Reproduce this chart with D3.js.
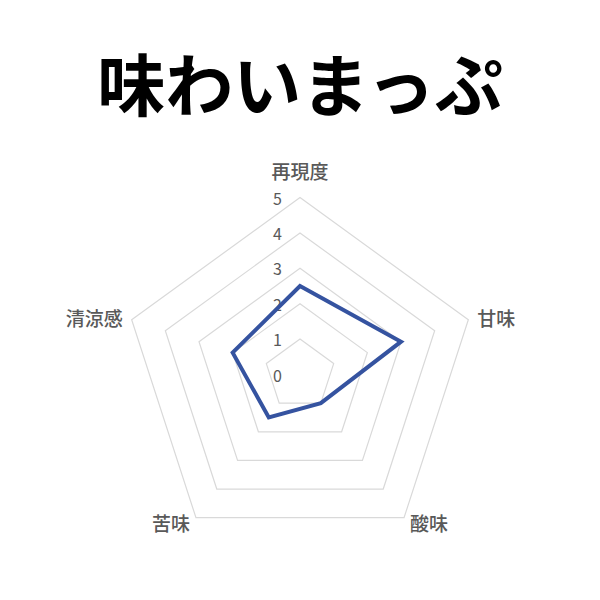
<!DOCTYPE html>
<html>
<head>
<meta charset="utf-8">
<script src="https://cdn.jsdelivr.net/npm/d3@7"></script>
<style>
  html, body { margin: 0; padding: 0; background: #fff; }
  svg { display: block; }
</style>
</head>
<body>
<svg id="chart" width="600" height="600"></svg>
<script>
const title = "味わいまっぷ";
const categories = ["再現度", "甘味", "酸味", "苦味", "清涼感"];
const values = [2.5, 3, 1, 1.5, 2];
const tickValues = [0, 1, 2, 3, 4, 5];

const svg = d3.select("#chart");
const W = 600, H = 600;
const cx = 300, cy = 374.5, R = 177;
const font = "'Noto Sans CJK JP', 'Noto Sans', sans-serif";

svg.append("rect").attr("width", W).attr("height", H).attr("fill", "#fff");

svg.append("text")
  .attr("x", 300).attr("y", 81)
  .attr("text-anchor", "middle")
  .attr("dominant-baseline", "central")
  .attr("font-family", font)
  .attr("font-weight", "bold")
  .attr("font-size", 68)
  .attr("fill", "#000")
  .text(title);

const r = d3.scaleLinear().domain([0, 5]).range([0, R]);
const angle = d3.scalePoint().domain(categories).range([0, 2 * Math.PI * (categories.length - 1) / categories.length]);

function pt(cat, v) {
  const a = angle(cat);
  return [cx + r(v) * Math.sin(a), cy - r(v) * Math.cos(a)];
}

const g = svg.append("g");

// grid pentagons
tickValues.forEach(t => {
  const pts = categories.map(c => pt(c, t));
  g.append("polygon")
    .attr("points", pts.map(p => p.join(",")).join(" "))
    .attr("fill", "none")
    .attr("stroke", "#d9d9d9")
    .attr("stroke-width", 1.2);
});

// tick labels
tickValues.forEach(t => {
  g.append("text")
    .attr("x", cx - 18)
    .attr("y", cy - r(t))
    .attr("text-anchor", "end")
    .attr("dominant-baseline", "central")
    .attr("font-family", font)
    .attr("font-size", 16)
    .attr("fill", "#595959")
    .text(t);
});

// data line
const line = d3.line().curve(d3.curveLinearClosed);
g.append("path")
  .attr("d", line(categories.map((c, i) => pt(c, values[i]))))
  .attr("fill", "none")
  .attr("stroke", "#3553a0")
  .attr("stroke-width", 4)
  .attr("stroke-linejoin", "miter");

// axis labels
const labelOffsets = {
  "再現度": { dx: 0, dy: -27, anchor: "middle" },
  "甘味": { dx: 9, dy: -2, anchor: "start" },
  "酸味": { dx: 6, dy: 5, anchor: "start" },
  "苦味": { dx: -6, dy: 5, anchor: "end" },
  "清涼感": { dx: -9, dy: -2, anchor: "end" }
};
categories.forEach(c => {
  const [x, y] = pt(c, 5);
  const o = labelOffsets[c];
  g.append("text")
    .attr("x", x + o.dx)
    .attr("y", y + o.dy)
    .attr("text-anchor", o.anchor)
    .attr("dominant-baseline", "central")
    .attr("font-family", font)
    .attr("font-size", 19)
    .attr("font-weight", 500)
    .attr("fill", "#595959")
    .text(c);
});
</script>
</body>
</html>
